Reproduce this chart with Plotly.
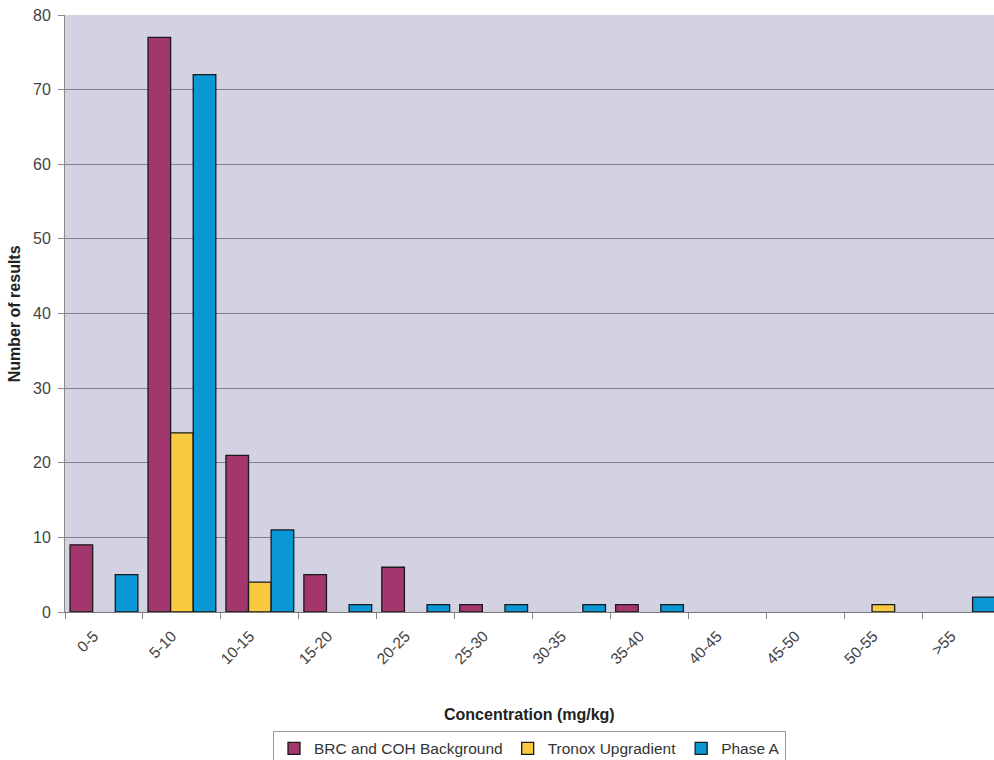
import plotly.graph_objects as go

categories = ["0-5", "5-10", "10-15", "15-20", "20-25", "25-30", "30-35",
              "35-40", "40-45", "45-50", "50-55", ">55"]
brc_background = [9, 77, 21, 5, 6, 1, 0, 1, 0, 0, 0, 0]
tronox_upgradient = [0, 24, 4, 0, 0, 0, 0, 0, 0, 0, 1, 0]
phase_a = [5, 72, 11, 1, 1, 1, 1, 1, 0, 0, 0, 2]

series = [
    ("BRC and COH Background", brc_background, "#a3366d"),
    ("Tronox Upgradient", tronox_upgradient, "#f9c940"),
    ("Phase A", phase_a, "#0a97d6"),
]

fig = go.Figure()
for name, vals, col in series:
    # empty bins draw no bar (as in the original chart)
    shown = [v if v != 0 else None for v in vals]
    fig.add_trace(go.Bar(
        x=categories, y=shown, name=name,
        marker=dict(color=col, line=dict(color="#1a1a1a", width=1.3)),
    ))

font = "Liberation Sans, Arial, sans-serif"
fig.update_layout(
    width=994, height=760,
    margin=dict(l=65, r=0, t=15, b=148, autoexpand=False),
    paper_bgcolor="white",
    plot_bgcolor="#d2d2e2",
    barmode="group", bargap=0.13, bargroupgap=0,
    font=dict(family=font, size=14, color="#333333"),
    showlegend=True,
    legend=dict(orientation="h", x=0.5, xanchor="center", y=-0.199, yanchor="top",
                bordercolor="#9a9a9a", borderwidth=1, bgcolor="white",
                font=dict(size=15.5, color="#333333"), itemwidth=30,
                tracegroupgap=0, traceorder="normal"),
    xaxis=dict(type="category", range=[-0.5, 11.42], tickson="boundaries",
               ticks="outside", ticklen=6, tickcolor="#888888",
               tickangle=-45, tickfont=dict(size=15.5, color="#444444"),
               ticklabelstandoff=8, ticklabelshift=-10,
               showline=True, linecolor="#7a7a7a", linewidth=1,
               showgrid=False, zeroline=False),
    yaxis=dict(range=[0, 80], dtick=10, ticks="outside", ticklen=6,
               tickcolor="#888888", tickfont=dict(size=16, color="#444444"),
               ticklabelstandoff=4,
               showline=True, linecolor="#8a8a8a", linewidth=1,
               showgrid=True, gridcolor="#80808c", gridwidth=1,
               zeroline=False),
    annotations=[
        dict(text="<b>Concentration (mg/kg)</b>", xref="paper", yref="paper",
             x=0.5, y=-0.171, xanchor="center", yanchor="middle", showarrow=False,
             font=dict(size=16, color="#222222")),
        dict(text="<b>Number of results</b>", xref="paper", yref="paper",
             x=-0.054, y=0.5, xanchor="center", yanchor="middle", showarrow=False,
             textangle=-90, font=dict(size=16, color="#222222")),
    ],
)

fig.write_html("out.html")
